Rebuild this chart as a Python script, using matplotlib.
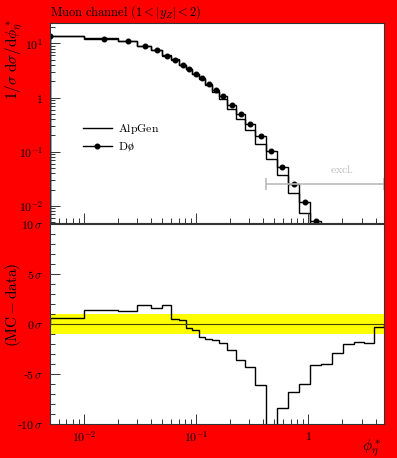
import numpy as np
import matplotlib
matplotlib.use('Agg')
import matplotlib.pyplot as plt
from matplotlib.ticker import LogLocator, FixedLocator, MultipleLocator, NullFormatter, FixedFormatter
from matplotlib.lines import Line2D

plt.rcParams['mathtext.fontset'] = 'cm'
plt.rcParams['font.family'] = ['DejaVu Serif']

# ---- data ----
edges = [0.0, 0.010, 0.020, 0.030, 0.040, 0.050, 0.060, 0.071, 0.081, 0.093,
         0.106, 0.121, 0.139, 0.162, 0.190, 0.227, 0.275, 0.337, 0.418, 0.523,
         0.657, 0.827, 1.041, 1.309, 1.640, 2.049, 2.547, 3.151, 3.878, 4.749]
data_vals = [13.5, 12.1, 10.9, 8.8, 7.45, 5.8, 5.0, 3.99, 3.33, 2.73,
             2.30, 1.76, 1.36, 1.07, 0.743, 0.498, 0.326, 0.196, 0.105, 0.0524,
             0.0255, 0.0119, 0.0052, 0.0024, 0.0011, 0.00048, 0.0002, 0.00008, 0.00003]
mc_vals = [13.7, 12.4, 11.2, 9.1, 7.6, 6.0, 5.05, 4.02, 3.30, 2.68,
           2.22, 1.70, 1.27, 0.93, 0.627, 0.41, 0.249, 0.1375, 0.0727, 0.0368,
           0.0177, 0.0074, 0.0035, 0.0016, 0.0008, 0.0004, 0.00018, 0.00007, 0.00003]
pull_vals = [0.6, 1.39, 1.32, 1.85, 1.62, 1.89, 0.5, 0.43, -0.43, -0.63,
             -1.33, -1.49, -1.63, -1.93, -2.63, -3.62, -4.27, -6.06, -12.0, -8.35,
             -6.76, -6.0, -4.08, -3.98, -2.93, -1.99, -1.76, -1.93, -0.3]
labels = [r'$\mathrm{AlpGen}$', r'$\mathrm{D\o}$']
title = r'$\mathrm{Muon\ channel}\ (1 < |y_Z| < 2)$'
excl_x = [0.42, 4.749]
excl_y = 0.026

xlim = (0.005, 4.749)
ylim_top = (0.00486, 23.7)
ylim_bot = (-10, 10)

W, H = 397, 458
fig = plt.figure(figsize=(W / 100, H / 100), dpi=100, facecolor='#ff0000')
ax1 = fig.add_axes([50 / W, (H - 223) / H, 334 / W, 200 / H])
ax2 = fig.add_axes([50 / W, (H - 424.3) / H, 334 / W, 200.6 / H])

edges_plot = [xlim[0]] + edges[1:]
centers = [(a + b) / 2 for a, b in zip(edges[:-1], edges[1:])]

fs = 8.5
# upper panel
ax1.stairs(mc_vals, edges_plot, color='k', lw=1.0)
ax1.stairs(data_vals, edges_plot, color='k', lw=1.0)
ax1.plot(centers, data_vals, 'o', ms=3.3, color='k')
ax1.set_xscale('log')
ax1.set_yscale('log')
ax1.set_xlim(*xlim)
ax1.set_ylim(*ylim_top)

# excluded region marker
xm = np.sqrt(excl_x[0] * excl_x[1])
ax1.errorbar([xm], [excl_y], xerr=[[xm - excl_x[0]], [excl_x[1] - xm]],
             fmt='none', ecolor='#bbbbbb', elinewidth=1.2, capsize=4, capthick=1.2, clip_on=False)
ax1.text(2.0, excl_y * 1.35, r'$\mathrm{excl.}$', color='#bbbbbb', fontsize=fs,
         ha='center', va='bottom')

handles = [Line2D([], [], color='k', lw=1.0),
           Line2D([], [], color='k', lw=1.0, marker='o', ms=3.3)]
ax1.legend(handles, labels, loc='center left',
           bbox_to_anchor=((83 - 50) / 334, 0.4275), frameon=False, fontsize=fs,
           borderaxespad=0, borderpad=0, handlelength=2.45, handletextpad=0.5,
           labelspacing=0.35)

ax1.yaxis.set_major_locator(FixedLocator([0.01, 0.1, 1, 10]))
ax1.yaxis.set_major_formatter(FixedFormatter([r'$10^{-2}$', r'$10^{-1}$', r'$1$', r'$10^{1}$']))
ax1.yaxis.set_minor_locator(LogLocator(base=10, subs=np.arange(2, 10)))
ax1.yaxis.set_minor_formatter(NullFormatter())
ax1.xaxis.set_major_locator(FixedLocator([0.01, 0.1, 1]))
ax1.xaxis.set_minor_locator(LogLocator(base=10, subs=np.arange(2, 10)))
ax1.xaxis.set_major_formatter(NullFormatter())
ax1.xaxis.set_minor_formatter(NullFormatter())

# lower panel
ax2.axhspan(-1, 1, color='#ffff00', lw=0)
ax2.axhline(0, color='#444400', lw=0.8)
ax2.stairs(pull_vals, edges_plot, color='k', lw=1.0)
ax2.set_xscale('log')
ax2.set_xlim(*xlim)
ax2.set_ylim(*ylim_bot)
ax2.yaxis.set_major_locator(FixedLocator([-10, -5, 0, 5, 10]))
ax2.yaxis.set_major_formatter(FixedFormatter(['-' + r'$10\,\sigma$', '-' + r'$5\,\sigma$', r'$0\,\sigma$',
                                              r'$5\,\sigma$', r'$10\,\sigma$']))
ax2.yaxis.set_minor_locator(MultipleLocator(1))
ax2.xaxis.set_major_locator(FixedLocator([0.01, 0.1, 1]))
ax2.xaxis.set_major_formatter(FixedFormatter([r'$10^{-2}$', r'$10^{-1}$', r'$1$']))
ax2.xaxis.set_minor_locator(LogLocator(base=10, subs=np.arange(2, 10)))
ax2.xaxis.set_minor_formatter(NullFormatter())

for ax in (ax1, ax2):
    ax.set_facecolor('white')
    ax.tick_params(which='both', direction='in', top=False, right=False,
                   color='#333333', width=0.7, labelsize=fs, pad=5)
    ax.tick_params(which='major', length=7.2)
    ax.tick_params(which='minor', length=3.6)
    for s in ax.spines.values():
        s.set_color('#333333')
        s.set_linewidth(0.8)
ax2.tick_params(axis='x', pad=4)

fig.text(50 / W, 1 - 12 / H, title, fontsize=9, ha='left', va='center')
fig.text(15 / W, 1 - 19 / H, r'$1/\sigma\ \mathrm{d}\sigma/\mathrm{d}\phi^*_\eta$',
         rotation=90, fontsize=11, ha='center', va='top')
fig.text(13 / W, 1 - 305 / H, r'$(\mathrm{MC} - \mathrm{data})$',
         rotation=90, fontsize=11, ha='center', va='center')
fig.text(372 / W, 1 - 448 / H, r'$\phi^*_\eta$', fontsize=11, ha='center', va='center')

fig.savefig('out.png', dpi=100, facecolor=fig.get_facecolor())
